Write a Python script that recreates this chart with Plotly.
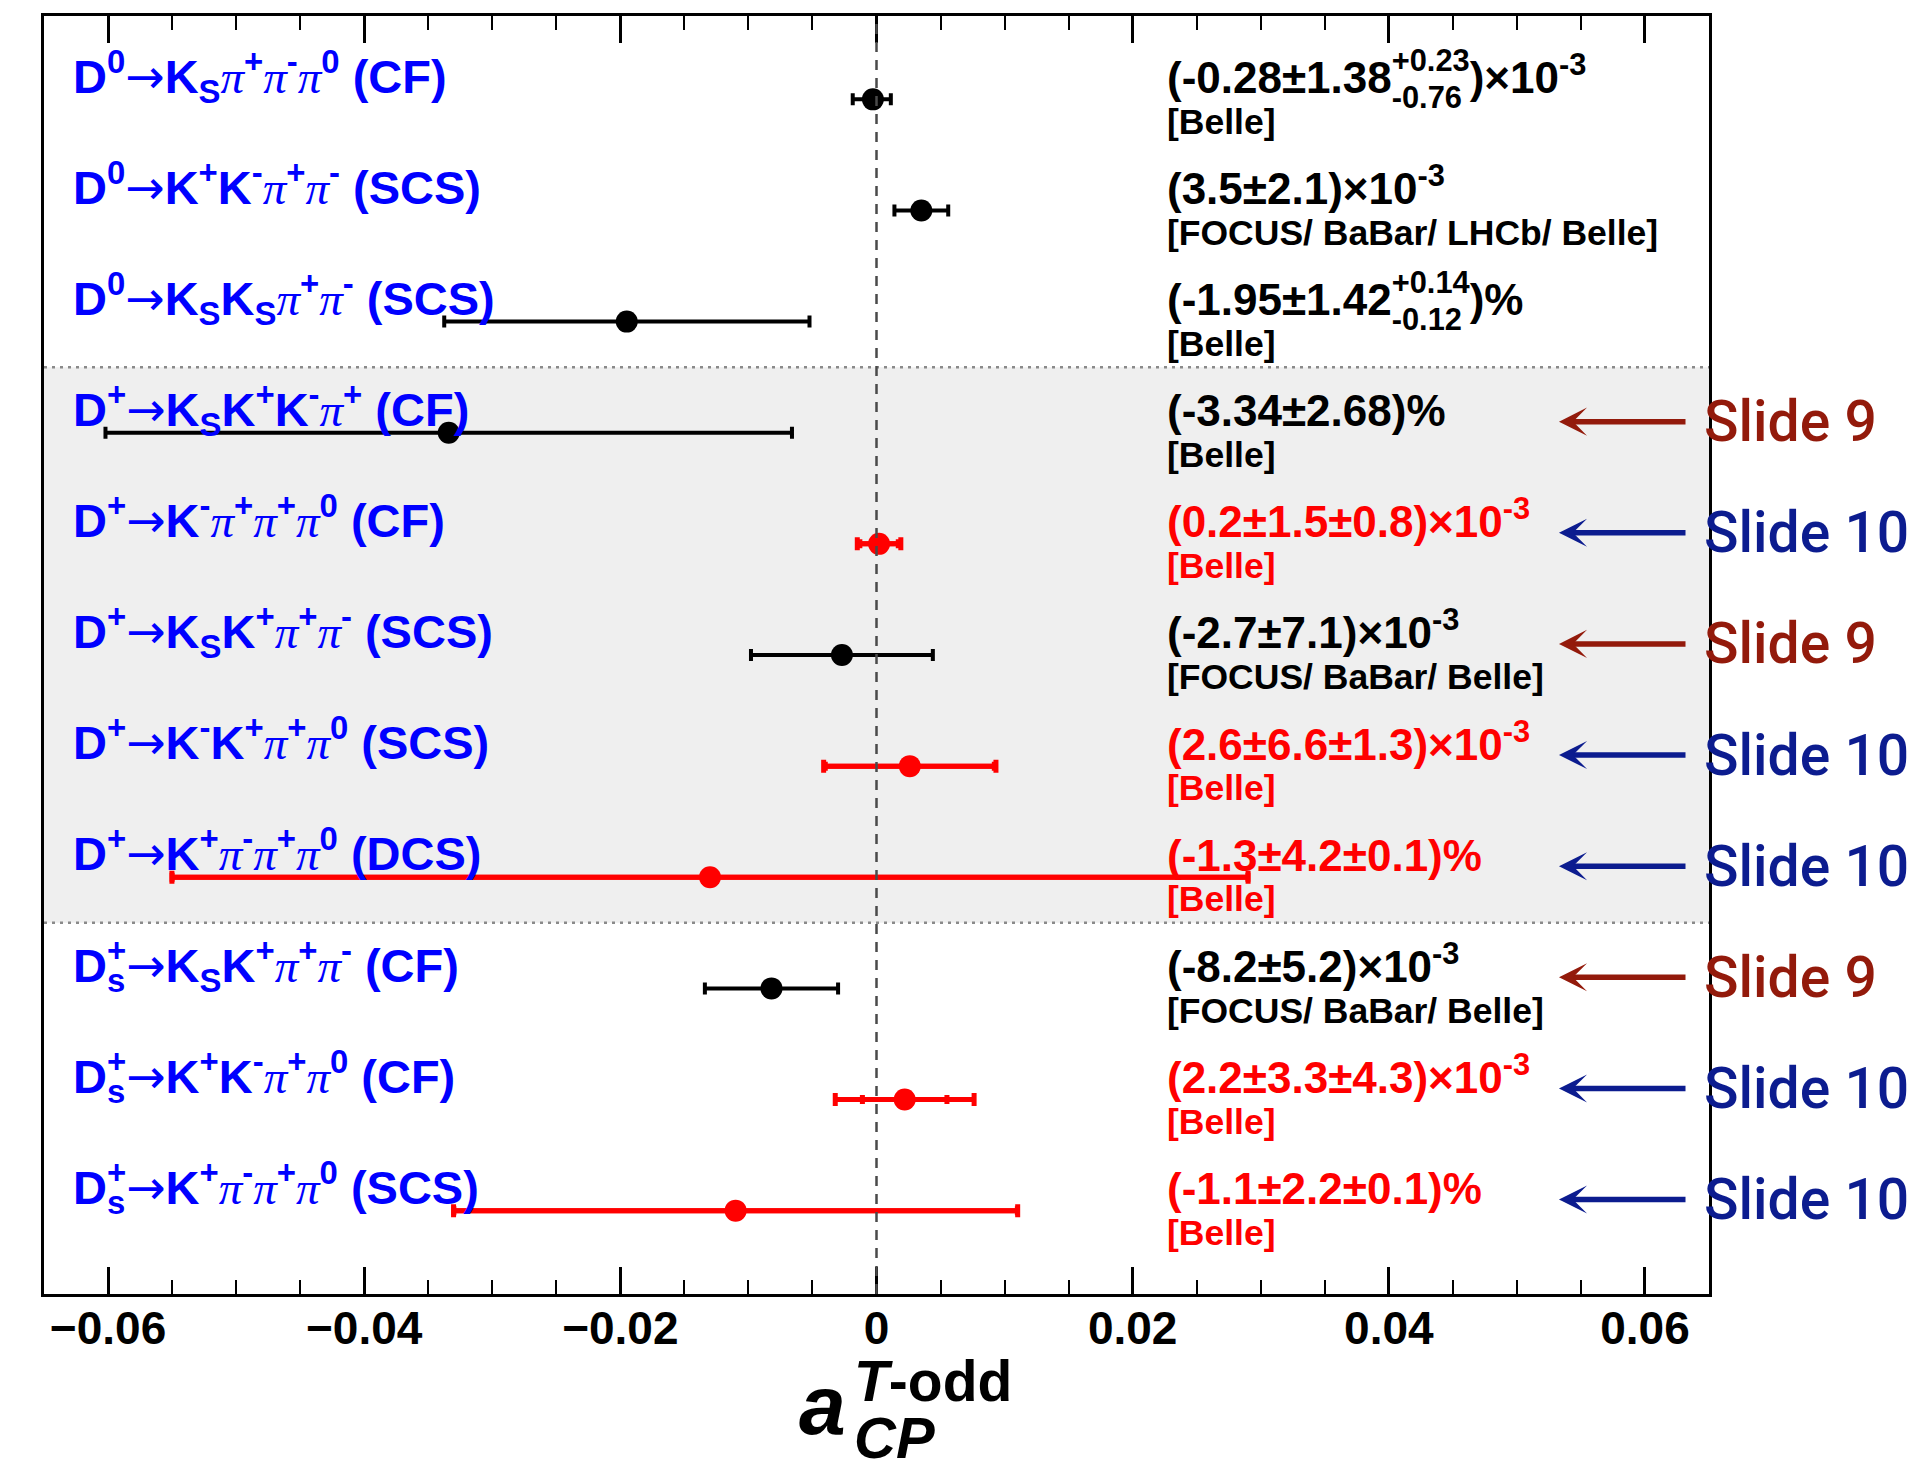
import math
import plotly.graph_objects as go

# ---------------- data ----------------
decays = [
    "D<sup>0</sup>→K<sub>S</sub>π<sup>+</sup>π<sup>-</sup>π<sup>0</sup> (CF)",
    "D<sup>0</sup>→K<sup>+</sup>K<sup>-</sup>π<sup>+</sup>π<sup>-</sup> (SCS)",
    "D<sup>0</sup>→K<sub>S</sub>K<sub>S</sub>π<sup>+</sup>π<sup>-</sup> (SCS)",
    "D<sup>+</sup>→K<sub>S</sub>K<sup>+</sup>K<sup>-</sup>π<sup>+</sup> (CF)",
    "D<sup>+</sup>→K<sup>-</sup>π<sup>+</sup>π<sup>+</sup>π<sup>0</sup> (CF)",
    "D<sup>+</sup>→K<sub>S</sub>K<sup>+</sup>π<sup>+</sup>π<sup>-</sup> (SCS)",
    "D<sup>+</sup>→K<sup>-</sup>K<sup>+</sup>π<sup>+</sup>π<sup>0</sup> (SCS)",
    "D<sup>+</sup>→K<sup>+</sup>π<sup>-</sup>π<sup>+</sup>π<sup>0</sup> (DCS)",
    "D<sub>s</sub><sup>+</sup>→K<sub>S</sub>K<sup>+</sup>π<sup>+</sup>π<sup>-</sup> (CF)",
    "D<sub>s</sub><sup>+</sup>→K<sup>+</sup>K<sup>-</sup>π<sup>+</sup>π<sup>0</sup> (CF)",
    "D<sub>s</sub><sup>+</sup>→K<sup>+</sup>π<sup>-</sup>π<sup>+</sup>π<sup>0</sup> (SCS)",
]
group_sizes = [3, 5, 3]  # D0, D+, Ds+
central = ["-0.28", "3.5", "-1.95", "-3.34", "0.2", "-2.7", "2.6", "-1.3", "-8.2", "2.2", "-1.1"]
stat = ["1.38", "2.1", "1.42", "2.68", "1.5", "7.1", "6.6", "4.2", "5.2", "3.3", "2.2"]
syst_up = ["0.23", None, "0.14", None, "0.8", None, "1.3", "0.1", None, "4.3", "0.1"]
syst_down = ["0.76", None, "0.12", None, "0.8", None, "1.3", "0.1", None, "4.3", "0.1"]
units = ["1e-3", "1e-3", "%", "%", "1e-3", "1e-3", "1e-3", "%", "1e-3", "1e-3", "%"]
experiments = ["[Belle]", "[FOCUS/ BaBar/ LHCb/ Belle]", "[Belle]", "[Belle]", "[Belle]",
               "[FOCUS/ BaBar/ Belle]", "[Belle]", "[Belle]", "[FOCUS/ BaBar/ Belle]",
               "[Belle]", "[Belle]"]
new_belle = [False, False, False, False, True, False, True, True, False, True, True]
slide_refs = [None, None, None, "Slide 9", "Slide 10", "Slide 9", "Slide 10", "Slide 10",
              "Slide 9", "Slide 10", "Slide 10"]

# ---------------- derived ----------------
n = len(decays)
pos = [n - i for i in range(n)]
unit_scale = {"1e-3": 1e-3, "%": 1e-2}
xv = [float(c) * unit_scale[u] for c, u in zip(central, units)]
st = [float(s) * unit_scale[u] for s, u in zip(stat, units)]
su = [float(s) * unit_scale[u] if s else 0.0 for s, u in zip(syst_up, units)]
sd = [float(s) * unit_scale[u] if s else 0.0 for s, u in zip(syst_down, units)]
tot_up = [math.hypot(a, b) for a, b in zip(st, su)]
tot_dn = [math.hypot(a, b) for a, b in zip(st, sd)]

SANS = "Liberation Sans, Arial, Helvetica, sans-serif"
BLUE = "#0000ff"
RED = "#ff0000"
CLEAR = "rgba(0,0,0,0)"
SLIDE_COL = {"Slide 9": "#931a0b", "Slide 10": "#0c1c8f"}
PI = '<span style="font-family:\'Liberation Serif\',serif;font-weight:normal;font-style:italic">π</span>'
ARROW = '<span style="font-family:\'DejaVu Sans\',sans-serif;font-weight:normal">→</span>'
PAD = '<span style="color:rgba(0,0,0,0)"><sup>.</sup><sub>.</sub></span>'


def visible(s, col):
    return f'<span style="color:{col};fill-opacity:1">{s}</span>'


def hidden(s):
    return f'<span style="color:rgba(0,0,0,0)">{s}</span>'


# plot-area geometry (px) used to place free text in paper coordinates
L, R, T, B = 44, 208, 16, 170
W, H = 1917, 1464
PW, PH = W - L - R, H - T - B


def px_x(p):
    return (p - L) / PW


def px_y(p):
    return (H - B - p) / PH


fig = go.Figure()

black_idx = [i for i in range(n) if not new_belle[i]]
red_idx = [i for i in range(n) if new_belle[i]]

fig.add_trace(go.Scatter(
    x=[xv[i] for i in black_idx], y=[pos[i] for i in black_idx], mode="markers",
    marker=dict(color="black", size=22),
    error_x=dict(type="data", symmetric=False, array=[tot_up[i] for i in black_idx],
                 arrayminus=[tot_dn[i] for i in black_idx], color="black", thickness=4, width=6),
    showlegend=False, hoverinfo="skip"))
fig.add_trace(go.Scatter(
    x=[xv[i] for i in red_idx], y=[pos[i] for i in red_idx], mode="markers",
    marker=dict(color=CLEAR, size=2),
    error_x=dict(type="data", symmetric=False, array=[st[i] for i in red_idx],
                 arrayminus=[st[i] for i in red_idx], color=RED, thickness=5, width=4.5),
    showlegend=False, hoverinfo="skip"))
fig.add_trace(go.Scatter(
    x=[xv[i] for i in red_idx], y=[pos[i] for i in red_idx], mode="markers",
    marker=dict(color=RED, size=22),
    error_x=dict(type="data", symmetric=False, array=[tot_up[i] for i in red_idx],
                 arrayminus=[tot_dn[i] for i in red_idx], color=RED, thickness=5, width=6.5),
    showlegend=False, hoverinfo="skip"))

# ---------------- shapes ----------------
shapes = []
bounds = []
k = 0
for g in group_sizes[:-1]:
    k += g
    bounds.append(pos[k - 1] - 0.41)
shapes.append(dict(type="rect", xref="paper", yref="y", x0=0, x1=1, y0=bounds[1], y1=bounds[0],
                   fillcolor="#efefef", line=dict(width=0), layer="below"))
for b in bounds:
    shapes.append(dict(type="line", xref="paper", yref="y", x0=0, x1=1, y0=b, y1=b,
                       line=dict(color="#8a8a8a", width=2.5, dash="3px,5px"), layer="above"))
shapes.append(dict(type="line", xref="x", yref="paper", x0=0, x1=0, y0=0, y1=1,
                   line=dict(color="#4a4a4a", width=2.5, dash="10px,8px"), layer="above"))

# ---------------- annotations ----------------
ann = []


def text(t, x, y, size, color, xref="paper", yref="y", family=SANS, weight="bold",
         xanchor="left", yanchor="middle", yshift=0):
    ann.append(dict(text=t, x=x, y=y, xref=xref, yref=yref, showarrow=False,
                    xanchor=xanchor, yanchor=yanchor, yshift=yshift,
                    font=dict(family=family, size=size, color=color, weight=weight)))


LAB_SIZE = 47
X_LAB = px_x(71)
X_VAL = px_x(1165)
for i in range(n):
    p = pos[i]
    lab = decays[i].replace("π", PI).replace("→", ARROW)
    ds = "D<sub>s</sub><sup>+</sup>"
    if lab.startswith(ds):
        rest = lab[len(ds):]
        text("D<sup>+</sup>" + rest + PAD, X_LAB, p + 0.21, LAB_SIZE, BLUE)
        text("D<sub>" + visible("s", BLUE) + "</sub>" + rest + PAD, X_LAB, p + 0.21, LAB_SIZE, CLEAR)
    else:
        text(lab + PAD, X_LAB, p + 0.21, LAB_SIZE, BLUE)

    col = RED if new_belle[i] else "black"
    suffix = ")×10<sup>-3</sup>" if units[i] == "1e-3" else ")%"
    head = f"({central[i]}±{stat[i]}"
    if syst_up[i] is None:
        text(head + suffix + PAD, X_VAL, p + 0.19, 44, col)
    elif syst_up[i] == syst_down[i]:
        text(head + f"±{syst_up[i]}" + suffix + PAD, X_VAL, p + 0.19, 44, col)
    else:
        up = f"+{syst_up[i]}"
        dn = f"-{syst_down[i]}"
        text(head + "<sup>" + hidden(up) + "</sup>" + suffix + PAD, X_VAL, p + 0.19, 44, col)
        text(head + "<sup>" + visible(up, col) + "</sup>" + suffix + PAD,
             X_VAL, p + 0.19, 44, CLEAR, yshift=4)
        text(head + "<sub>" + visible(dn, col) + "</sub>" + suffix + PAD,
             X_VAL, p + 0.19, 44, CLEAR, yshift=-5)
    text(experiments[i], X_VAL, p - 0.2, 35.5, col)

    if slide_refs[i]:
        c = SLIDE_COL[slide_refs[i]]
        ann.append(dict(text="", x=px_x(1559), y=p + 0.1, xref="paper", yref="y",
                        showarrow=True, ax=128, ay=0, arrowhead=3, arrowsize=0.85,
                        arrowwidth=5.5, arrowcolor=c))
        text(slide_refs[i], px_x(1702), p + 0.1, 57, c, family="Roboto, Liberation Sans, sans-serif",
             weight=500)

# axis title a_CP^{T-odd}
text("<i>a</i>", px_x(848), px_y(1405), 84, "black", yref="paper", xanchor="right")
text("<i>T</i>-odd", px_x(852), px_y(1381), 57, "black", yref="paper")
text("<i>CP</i>", px_x(852), px_y(1437), 58, "black", yref="paper")

fig.update_layout(
    template="none",
    width=W, height=H,
    margin=dict(l=L, r=R, t=T, b=B, pad=0),
    paper_bgcolor="white", plot_bgcolor="white",
    showlegend=False,
    shapes=shapes, annotations=ann,
    xaxis=dict(range=[-0.065, 0.065], tick0=0, dtick=0.02, ticks="inside", ticklen=27,
               tickwidth=2.5, tickcolor="black", showline=True, linecolor="black", linewidth=3,
               mirror="ticks", showgrid=False, zeroline=False, automargin=False,
               ticklabelstandoff=-8,
               tickfont=dict(family=SANS, size=46, color="black", weight="bold"),
               minor=dict(dtick=0.005, ticks="inside", ticklen=14, tickwidth=2,
                          tickcolor="black", showgrid=False)),
    yaxis=dict(range=[0.25, 11.75], showticklabels=False, ticks="", showline=True,
               linecolor="black", linewidth=3, mirror=True, showgrid=False, zeroline=False,
               automargin=False),
)

fig.write_html("out.html", config={"displayModeBar": False},
               post_script="document.body.style.margin='0';document.body.style.overflow='hidden';")
